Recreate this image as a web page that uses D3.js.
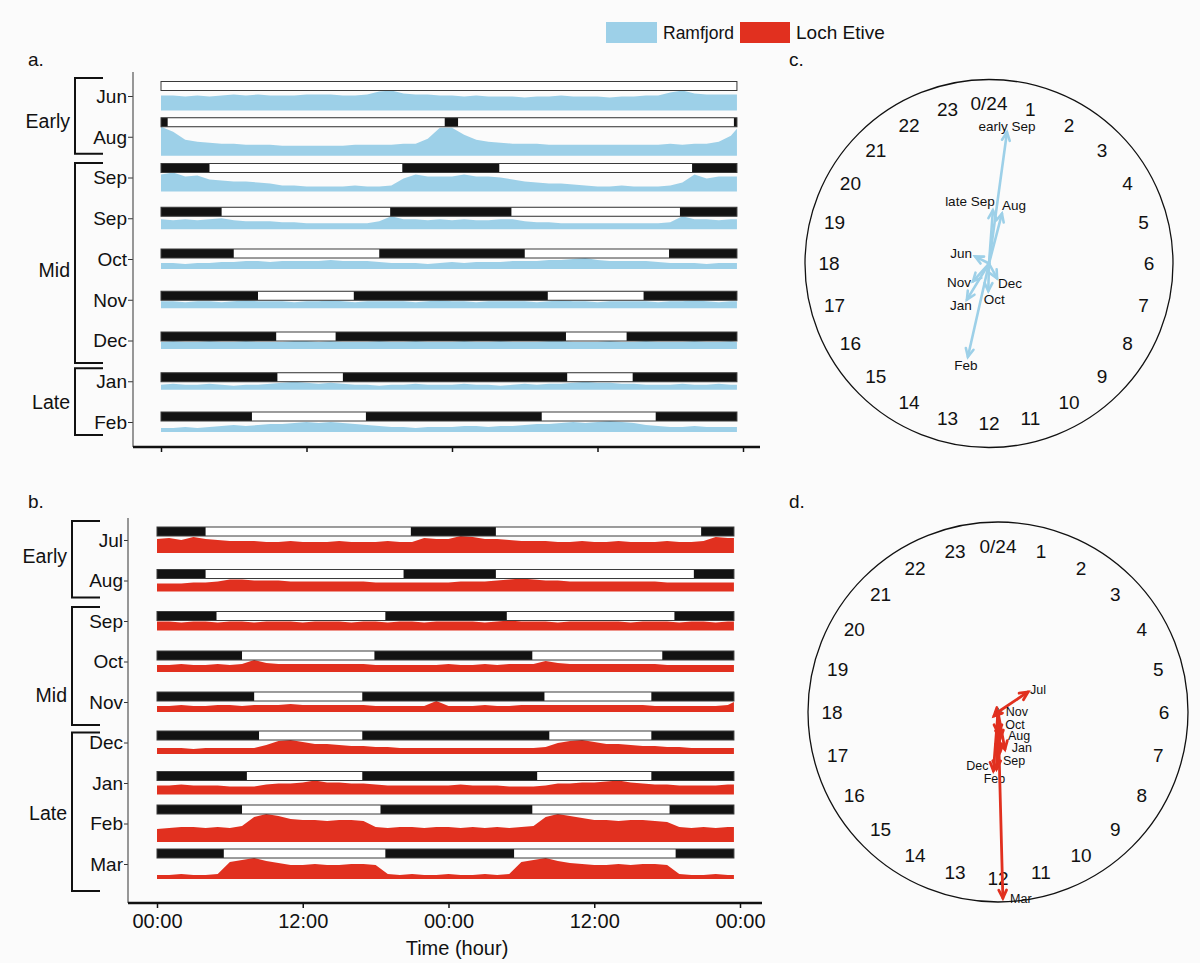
<!DOCTYPE html>
<html><head><meta charset="utf-8">
<script src="https://cdn.jsdelivr.net/npm/d3@7"></script>
<style>
body{margin:0;background:#fbfbfb}
svg{display:block}
text{font-family:"Liberation Sans",Arial,Helvetica,sans-serif;fill:#111}
</style>
</head><body>
<svg id="chart" width="1200" height="963"></svg>
<script>
// ---------------- DATA ----------------
const hours = [0,1,2,3,4,5,6,7,8,9,10,11,12,13,14,15,16,17,18,19,20,21,22,23,24,25,26,27,28,29,30,31,32,33,34,35,36,37,38,39,40,41,42,43,44,45,46,47,47.5];
const timeTicks = [0,12,24,36,48];
const timeTickLabels = ["00:00","12:00","00:00","12:00","00:00"];

// Panel a : Ramfjord
const ramfjordRows = ["Jun","Aug","Sep","Sep","Oct","Nov","Dec","Jan","Feb"];
const ramfjordGroups = [["Early",0,1],["Mid",2,6],["Late",7,8]];
const ramfjordLight = [
  [[0,47.5]],
  [[0.55,23.4],[24.5,47.25]],
  [[4.0,19.9],[27.9,43.8]],
  [[5.0,18.9],[28.9,42.8]],
  [[6.0,18.0],[30.0,41.9]],
  [[8.0,15.9],[31.9,39.8]],
  [[9.5,14.4],[33.4,38.4]],
  [[9.6,15.0],[33.5,38.9]],
  [[7.5,16.9],[31.4,40.8]]
];
const ramJun  = [15,15,14,15,14,15,16,15,16,15,15,15,16,16,16,15,15,16,19,20,17,16,16,15,15,14,15,14,14,14,13,14,14,15,14,14,14,13,14,14,15,15,18,20,17,16,16,16,16];
const ramAug  = [29,24,16,14,13,12,12,11,11,11,10,10,10,10,10,10,11,11,11,11,12,12,17,28,28,21,16,14,13,12,12,12,11,11,11,11,11,11,11,11,11,11,12,11,12,12,14,20,27];
const ramSepE = [17,19,15,16,12,11,10,10,9,8,6,6,5,5,5,5,6,5,5,6,13,17,15,15,15,17,15,15,14,12,10,9,8,8,7,6,5,5,6,5,5,5,6,9,17,13,15,15,15];
const ramSepL = [10,9,10,9,10,11,9,8,8,8,7,7,6,6,6,6,6,6,8,13,10,10,9,10,9,10,9,9,10,10,8,7,7,6,6,6,6,6,6,6,6,6,7,13,10,10,9,10,10];
const ramOct  = [6,6,5,6,6,7,7,8,8,7,8,8,8,8,9,8,8,8,7,6,6,6,5,6,7,6,7,7,7,8,8,8,9,9,10,11,9,8,8,8,8,7,6,6,6,5,6,6,6];
const ramNov  = [7,7,6,7,7,6,7,8,7,7,7,6,7,7,8,7,6,7,7,7,7,6,7,8,7,7,6,7,7,7,7,6,7,8,7,7,6,7,7,7,7,6,7,7,8,7,6,7,7];
const ramDec  = [7,8,7,7,8,7,7,8,7,7,7,8,8,7,8,7,7,7,8,7,7,8,7,7,7,8,7,7,8,7,7,7,8,8,7,7,7,8,7,7,8,7,7,7,8,7,7,8,7];
const ramJan  = [5,6,5,5,6,5,4,5,5,6,7,8,7,6,7,6,5,5,4,5,5,6,5,5,5,6,5,5,4,5,6,5,6,6,7,8,7,7,6,6,5,5,5,6,5,5,6,5,5];
const ramFeb  = [4,4,5,4,5,6,7,6,7,8,8,9,10,9,10,9,8,7,6,5,5,4,5,5,5,6,6,5,6,6,7,8,8,9,10,9,10,11,10,9,7,6,5,5,6,5,5,5,5];
const ramfjordActivity = [ramJun,ramAug,ramSepE,ramSepL,ramOct,ramNov,ramDec,ramJan,ramFeb];

// Panel b : Loch Etive
const etiveRows = ["Jul","Aug","Sep","Oct","Nov","Dec","Jan","Feb","Mar"];
const etiveGroups = [["Early",0,1],["Mid",2,4],["Late",5,8]];
const etiveLight = [
  [[4.0,20.9],[27.9,44.8]],
  [[4.0,20.3],[27.9,44.2]],
  [[4.9,18.8],[28.8,42.6]],
  [[7.0,17.9],[30.9,41.6]],
  [[8.0,16.9],[31.9,40.7]],
  [[8.4,16.9],[32.3,40.7]],
  [[7.4,16.9],[31.3,40.7]],
  [[7.0,18.4],[30.9,42.2]],
  [[5.5,18.8],[29.4,42.7]]
];
const etvJul = [14,15,13,16,14,13,12,12,12,11,11,12,11,11,11,12,11,11,11,12,11,11,15,14,14,17,16,14,14,13,12,12,12,11,11,12,11,11,12,11,11,11,12,11,11,12,16,15,15];
const etvAug = [8,8,8,9,9,10,12,12,11,11,11,10,10,10,10,10,10,10,9,9,9,9,9,9,9,10,10,10,11,12,13,12,11,11,10,10,10,10,10,10,10,10,9,9,9,9,9,9,9];
const etvSep = [9,9,8,9,9,8,9,9,8,9,9,9,8,9,9,9,8,9,9,8,9,9,8,9,9,9,9,8,9,10,9,9,9,8,9,9,9,9,9,8,9,9,9,8,9,9,8,9,9];
const etvOct = [7,7,8,7,7,8,7,8,12,9,8,8,8,8,8,8,8,8,7,7,7,7,7,7,8,7,7,8,7,8,8,8,11,9,8,8,8,8,8,8,8,8,7,7,7,7,7,7,7];
const etvNov = [6,6,7,6,6,7,7,6,7,7,7,8,7,7,7,7,7,7,6,6,6,6,6,11,6,6,6,7,6,6,7,7,7,7,7,7,7,7,7,7,7,6,6,6,6,6,6,7,10];
const etvDec = [6,6,6,5,6,6,6,6,6,9,13,14,12,10,10,9,8,8,7,7,6,6,6,6,6,6,6,6,6,6,6,6,7,11,13,14,12,10,10,9,8,8,7,7,6,6,6,6,6];
const etvJan = [9,9,10,9,9,9,8,8,8,10,11,11,12,14,12,12,11,11,10,9,9,9,9,9,9,10,9,9,9,8,8,8,9,11,11,12,12,13,14,12,11,10,10,9,9,9,9,10,10];
const etvFeb = [13,14,15,15,14,15,14,16,25,28,26,23,22,22,21,22,22,21,15,14,15,15,14,15,15,14,15,14,15,14,15,16,25,28,26,24,22,22,21,22,22,21,20,15,14,15,14,15,15];
const etvMar = [4,4,5,4,4,5,17,19,21,18,16,14,14,15,14,14,15,15,14,5,4,5,4,4,5,4,4,5,4,5,17,19,21,18,16,15,14,14,15,14,15,15,14,5,4,4,5,4,4];
const etiveActivity = [etvJul,etvAug,etvSep,etvOct,etvNov,etvDec,etvJan,etvFeb,etvMar];

// Clock c : Ramfjord phase (hour) and relative amplitude
const clockCLabels = ["early Sep","late Sep","Aug","Jun","Dec","Oct","Nov","Jan","Feb"];
const clockCPhase  = [0.52,0.28,0.97,19.8,10.1,12.1,14.8,14.1,12.85];
const clockCAmp    = [0.72,0.29,0.28,0.085,0.092,0.15,0.13,0.23,0.52];
// Clock d : Loch Etive
const clockDLabels = ["Jul","Nov","Oct","Aug","Jan","Sep","Dec","Feb","Mar"];
const clockDPhase  = [3.75,15.0,12.0,11.7,11.3,11.8,12.3,12.1,11.9];
const clockDAmp    = [0.19,0.03,0.11,0.14,0.20,0.21,0.31,0.30,0.98];

const legendNames = ["Ramfjord","Loch Etive"];

// ---------------- STYLE / LAYOUT ----------------
const BLUE = "#9dd0e8", RED = "#e1301f";
const svg = d3.select("#chart");
const FONT = 19;

svg.append("rect").attr("width",1200).attr("height",963).attr("fill","#fbfbfb");

// legend
const legendColors = [BLUE, RED];
const legendX = d3.scaleOrdinal().domain(legendNames).range([606,740]);
const legendW = {"Ramfjord":51,"Loch Etive":50};
legendNames.forEach((n,i)=>{
  svg.append("rect").attr("x",legendX(n)).attr("y",22).attr("width",legendW[n]).attr("height",21).attr("fill",legendColors[i]);
  svg.append("text").attr("x",legendX(n)+legendW[n]+6).attr("y",39).attr("font-size",i===0?17.5:19).text(n);
});

function drawPanel(o){
  const g = svg.append("g");
  const x = d3.scaleLinear().domain([0,48]).range(o.xRange);
  const y = d3.scalePoint().domain(d3.range(o.rows.length)).range(o.yRange);
  const amp = d3.scaleLinear().domain([0,30]).range([0,30]);
  const barH = 9;
  const tEnd = hours[hours.length-1];
  o.rows.forEach((r,i)=>{
    const act = o.acts[i];
    const mx = amp(d3.max(act));
    const base = y(i) + (mx+barH)/2;
    const barTop = base - mx - barH;
    const area = d3.area().x((d,j)=>x(hours[j])).y0(base).y1(d=>base-amp(d));
    g.append("path").datum(act).attr("d",area).attr("fill",o.color);
    g.append("rect").attr("x",x(0)).attr("y",barTop).attr("width",x(tEnd)-x(0)).attr("height",barH).attr("fill","#121212");
    o.light[i].forEach(([a,b])=>{
      g.append("rect").attr("x",x(a)).attr("y",barTop).attr("width",x(b)-x(a)).attr("height",barH).attr("fill","#fff");
    });
    g.append("rect").attr("x",x(0)).attr("y",barTop).attr("width",x(tEnd)-x(0)).attr("height",barH)
      .attr("fill","none").attr("stroke","#3a3a3a").attr("stroke-width",1);
  });
  // y axis
  const ya = g.append("g").attr("transform",`translate(${o.axisX},0)`)
    .call(d3.axisLeft(y).tickFormat(i=>o.rows[i]).tickSize(o.tickLen).tickPadding(1));
  ya.select(".domain").remove();
  ya.selectAll("text").attr("font-size",FONT).attr("font-family","Liberation Sans, Arial, sans-serif").attr("fill","#111").attr("dy","0.34em");
  ya.selectAll("line").attr("stroke","#333");
  g.append("line").attr("x1",o.axisX).attr("x2",o.axisX).attr("y1",o.axisTop).attr("y2",o.axisBottom)
    .attr("stroke","#555").attr("stroke-width",1.2);
  // x axis
  const xa = g.append("g").attr("transform",`translate(0,${o.axisBottom})`)
    .call(d3.axisBottom(x).tickValues(timeTicks).tickSize(5).tickPadding(6)
      .tickFormat((d,i)=>o.showLabels?timeTickLabels[i]:""));
  xa.select(".domain").remove();
  xa.selectAll("line").attr("stroke","#111").attr("stroke-width",1.5);
  xa.selectAll("text").attr("font-size",20).attr("font-family","Liberation Sans, Arial, sans-serif").attr("fill","#111");
  g.append("line").attr("x1",o.axisX).attr("x2",o.axisRight).attr("y1",o.axisBottom).attr("y2",o.axisBottom)
    .attr("stroke","#111").attr("stroke-width",2.5);
  // brackets
  o.groups.forEach(([name,a,b],k)=>{
    const top = y(a)+o.brTop[k], bot = y(b)+o.brBot[k];
    g.append("path").attr("d",`M${o.brX+28},${top}H${o.brX}V${bot}H${o.brX+28}`)
      .attr("fill","none").attr("stroke","#111").attr("stroke-width",2);
    g.append("text").attr("x",o.brX-5).attr("y",(top+bot)/2+o.grpNudge[k]).attr("dy","0.35em")
      .attr("text-anchor","end").attr("font-size",FONT+0.5).text(name);
  });
  svg.append("text").attr("x",28).attr("y",o.letterY).attr("font-size",FONT).text(o.letter);
}

drawPanel({rows:ramfjordRows, acts:ramfjordActivity, light:ramfjordLight, groups:ramfjordGroups,
  color:BLUE, xRange:[161,743], yRange:[96,422], axisX:133, axisTop:72, axisBottom:447, axisRight:760,
  tickLen:5, showLabels:false, brX:75, brTop:[-18,-14.5,-13], brBot:[17,22.5,13], grpNudge:[5,7,1], letter:"a.", letterY:66});
drawPanel({rows:etiveRows, acts:etiveActivity, light:etiveLight, groups:etiveGroups,
  color:RED, xRange:[157,740], yRange:[540,864], axisX:128, axisTop:518, axisBottom:903, axisRight:762,
  tickLen:4, showLabels:true, brX:72, brTop:[-19,-14,-10], brBot:[17,23,27], grpNudge:[-3,29,1], letter:"b.", letterY:508});

svg.append("text").attr("x",457).attr("y",955).attr("text-anchor","middle").attr("font-size",20).text("Time (hour)");

// clocks
function drawClock(o){
  const g = svg.append("g");
  const ang = d3.scaleLinear().domain([0,24]).range([0,2*Math.PI]);
  const r = d3.scaleLinear().domain([0,1]).range([0,o.R]);
  g.append("circle").attr("cx",o.cx).attr("cy",o.cy).attr("r",o.R).attr("fill","none").attr("stroke","#111").attr("stroke-width",1.3);
  for(let h=0;h<24;h++){
    const t = ang(h);
    g.append("text").attr("x",o.cx+o.rl*Math.sin(t)).attr("y",o.cy-o.rl*Math.cos(t)).attr("dy","0.35em")
      .attr("text-anchor","middle").attr("font-size",FONT).text(h===0?"0/24":h);
  }
  if(o.cross){
    g.append("path").attr("d",`M${o.cx-4},${o.cy}H${o.cx+4}M${o.cx},${o.cy-4}V${o.cy+4}`).attr("stroke","#111").attr("stroke-width",1.2);
  }
  o.labels.forEach((lab,i)=>{
    const t = ang(o.phase[i]), L = r(o.amp[i]);
    const ux = Math.sin(t), uy = -Math.cos(t);
    const tx = o.cx + L*ux, ty = o.cy + L*uy;
    g.append("line").attr("x1",o.cx).attr("y1",o.cy).attr("x2",tx).attr("y2",ty)
      .attr("stroke",o.color).attr("stroke-width",o.lw).attr("stroke-linecap","round");
    const hl = 9, ha = 0.45;
    const b1x = tx - hl*(ux*Math.cos(ha) - uy*Math.sin(ha)), b1y = ty - hl*(ux*Math.sin(ha) + uy*Math.cos(ha));
    const b2x = tx - hl*(ux*Math.cos(-ha) - uy*Math.sin(-ha)), b2y = ty - hl*(ux*Math.sin(-ha) + uy*Math.cos(-ha));
    g.append("path").attr("d",`M${b1x},${b1y}L${tx},${ty}L${b2x},${b2y}`).attr("fill","none")
      .attr("stroke",o.color).attr("stroke-width",o.lw).attr("stroke-linejoin","miter").attr("stroke-linecap","round");
    const off = o.off[lab];
    g.append("text").attr("x",tx+off[0]).attr("y",ty+off[1]).attr("dy","0.35em").attr("text-anchor","middle")
      .attr("font-size",o.lfs).attr("fill","#222").text(lab);
  });
  svg.append("text").attr("x",789).attr("y",o.letterY).attr("font-size",FONT).text(o.letter);
}
drawClock({cx:989, cy:263.5, R:184, rl:160, labels:clockCLabels, phase:clockCPhase, amp:clockCAmp, color:BLUE, lw:2.6, lfs:13.5,
  off:{"early Sep":[0,-6],"late Sep":[-23,-9],"Aug":[12,-8],"Jun":[-14,-3],"Dec":[13,5],"Oct":[6,8],"Nov":[-14,1],"Jan":[-6,6],"Feb":[-2,8]},
  letter:"c.", letterY:66, cross:false});
drawClock({cx:998, cy:712, R:190, rl:166, labels:clockDLabels, phase:clockDPhase, amp:clockDAmp, color:RED, lw:2.8, lfs:12.5,
  off:{"Jul":[10,-2],"Nov":[23,-4],"Oct":[17,-8],"Aug":[19,-3],"Jan":[17,-2],"Sep":[14,9],"Dec":[-16,-5],"Feb":[-2,10],"Mar":[18,0]},
  letter:"d.", letterY:508, cross:true});
</script>
</body></html>
